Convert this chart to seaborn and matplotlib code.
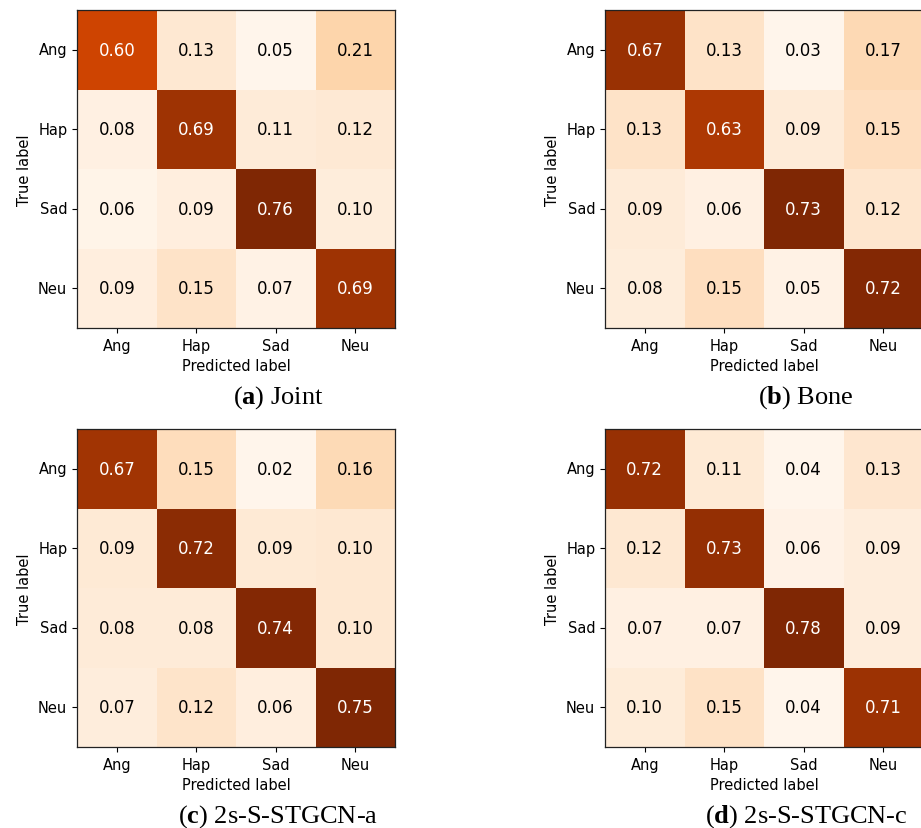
import matplotlib
matplotlib.use("Agg")
import matplotlib.pyplot as plt
import seaborn as sns
import numpy as np

# class names
labels = ["Ang", "Hap", "Sad", "Neu"]

# normalised confusion matrices (rows = true, cols = predicted)
cm_joint = [[0.60, 0.13, 0.05, 0.21],
            [0.08, 0.69, 0.11, 0.12],
            [0.06, 0.09, 0.76, 0.10],
            [0.09, 0.15, 0.07, 0.69]]
cm_bone = [[0.67, 0.13, 0.03, 0.17],
           [0.13, 0.63, 0.09, 0.15],
           [0.09, 0.06, 0.73, 0.12],
           [0.08, 0.15, 0.05, 0.72]]
cm_a = [[0.67, 0.15, 0.02, 0.16],
        [0.09, 0.72, 0.09, 0.10],
        [0.08, 0.08, 0.74, 0.10],
        [0.07, 0.12, 0.06, 0.75]]
cm_c = [[0.72, 0.11, 0.04, 0.13],
        [0.12, 0.73, 0.06, 0.09],
        [0.07, 0.07, 0.78, 0.09],
        [0.10, 0.15, 0.04, 0.71]]

letters = ["a", "b", "c", "d"]
names = ["Joint", "Bone", "2s-S-STGCN-a", "2s-S-STGCN-c"]
matrices = [cm_joint, cm_bone, cm_a, cm_c]

plt.rcParams['font.family'] = ['DejaVu Sans']
plt.rcParams['mathtext.fontset'] = 'custom'
plt.rcParams['mathtext.rm'] = 'Liberation Serif'
plt.rcParams['mathtext.bf'] = 'Liberation Serif:bold'

W, H = 921, 829
fig = plt.figure(figsize=(W / 100, H / 100), dpi=100)

# pixel boxes: left, top, size
boxes = [(77, 11), (605, 11), (77, 430), (605, 430)]
size = 318

for i, (m, (lx, ty)) in enumerate(zip(matrices, boxes)):
    ax = fig.add_axes([lx / W, (H - ty - size) / H, size / W, size / H])
    arr = np.array(m)
    sns.heatmap(arr, ax=ax, cmap="Oranges", vmin=arr.min(), vmax=arr.max(),
                annot=True, fmt=".2f", cbar=False, square=False,
                annot_kws={"size": 12},
                xticklabels=labels, yticklabels=labels)
    # plain black text on the light cells
    for t in ax.texts:
        if t.get_color() != "w":
            t.set_color("black")
    for s in ax.spines.values():
        s.set_visible(True)
        s.set_linewidth(0.9)
        s.set_color("#222222")
    ax.tick_params(axis="both", labelsize=10.5, length=3.5, width=0.8)
    ax.set_yticklabels(labels, rotation=0)
    ax.set_xticklabels(labels, rotation=0)
    ax.set_xlabel("Predicted label", fontsize=10.5)
    ax.set_ylabel("True label", fontsize=10.5)

    cx = lx + size / 2 + 42
    base = ty + size + 75
    fig.text(cx / W, (H - base) / H, r"($\mathbf{%s}$) %s" % (letters[i], names[i]),
             ha="center", va="baseline", fontsize=19, family="Liberation Serif")

fig.savefig("out.png", dpi=100)
